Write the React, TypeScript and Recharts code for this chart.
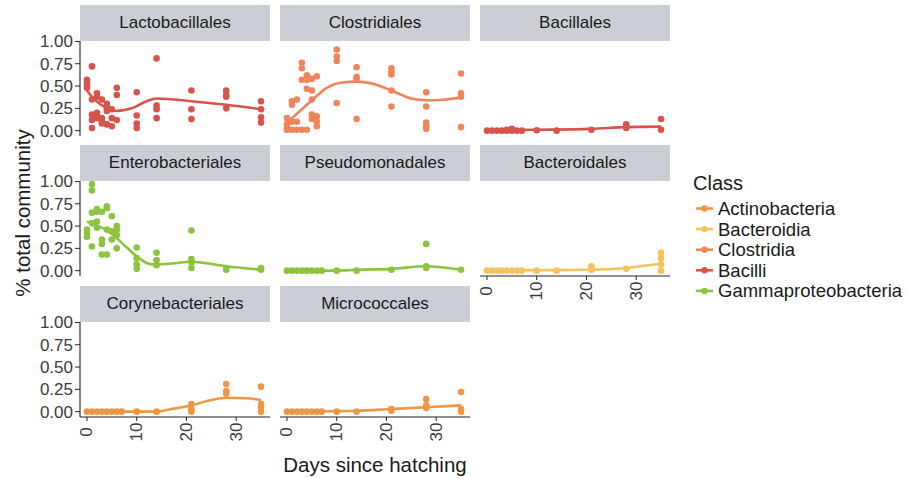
import React from "react";
import { ComposedChart, Scatter, Line, XAxis, YAxis } from "recharts";

type P = [number, number];

const FONT = '"Liberation Sans", Arial, Helvetica, sans-serif';

const classNames = ["Actinobacteria", "Bacteroidia", "Clostridia", "Bacilli", "Gammaproteobacteria"];
const classColors = ["#EF9645", "#F3C35F", "#EE855D", "#D6544B", "#8CC43F"];

const yTicks = [0, 0.25, 0.5, 0.75, 1];
const xTicks = [0, 10, 20, 30];

// points: [day, proportion]
const lactoPts: P[] = [
  [0, 0.57], [0, 0.54], [0, 0.5], [0, 0.48], [1, 0.72], [1, 0.35], [1, 0.18], [1, 0.12], [1, 0.03],
  [2, 0.42], [2, 0.38], [2, 0.2], [2, 0.18], [2, 0.14], [3, 0.35], [3, 0.14], [3, 0.1], [3, 0.08],
  [4, 0.3], [4, 0.25], [4, 0.22], [4, 0.07], [5, 0.24], [5, 0.14], [5, 0.05], [6, 0.48], [6, 0.4], [6, 0.12],
  [10, 0.43], [10, 0.17], [10, 0.08], [10, 0.03], [14, 0.81], [14, 0.28], [14, 0.24], [14, 0.14],
  [21, 0.45], [21, 0.24], [21, 0.13], [28, 0.45], [28, 0.4], [28, 0.38], [28, 0.25],
  [35, 0.33], [35, 0.24], [35, 0.15], [35, 0.09],
];
const lactoFit: P[] = [[0, 0.45], [1.5, 0.35], [4, 0.25], [5.5, 0.22], [9, 0.25], [12, 0.33], [14, 0.36], [21, 0.33], [28, 0.29], [35, 0.24]];

const clostPts: P[] = [
  [0, 0.14], [0, 0.07], [0, 0.03], [0, 0.01], [1, 0.33], [1, 0.29], [1, 0.1], [1, 0.01], [2, 0.35], [2, 0.1], [2, 0.01],
  [3, 0.76], [3, 0.7], [3, 0.57], [3, 0.01], [4, 0.62], [4, 0.57], [4, 0.47], [4, 0.01],
  [5, 0.58], [5, 0.45], [5, 0.35], [5, 0.18], [5, 0.13], [6, 0.61], [6, 0.16], [6, 0.1], [6, 0.05],
  [10, 0.91], [10, 0.83], [10, 0.78], [10, 0.31], [14, 0.71], [14, 0.6], [14, 0.57], [14, 0.13],
  [21, 0.7], [21, 0.66], [21, 0.63], [21, 0.45], [21, 0.27], [28, 0.43], [28, 0.27], [28, 0.09], [28, 0.05], [28, 0.02],
  [35, 0.64], [35, 0.42], [35, 0.38], [35, 0.04],
];
const clostFit: P[] = [[0, 0.09], [2, 0.19], [5, 0.34], [8, 0.48], [11, 0.54], [14, 0.55], [17, 0.53], [21, 0.45], [25, 0.36], [28, 0.34], [32, 0.35], [35, 0.37]];

const bacilPts: P[] = [
  [0, 0], [1, 0], [2, 0], [3, 0], [4, 0], [4, 0.01], [5, 0.02], [5, 0], [6, 0], [7, 0],
  [10, 0.005], [14, 0], [21, 0.01], [28, 0.07], [28, 0.05], [28, 0.03], [35, 0.13], [35, 0.01],
];
const bacilFit: P[] = [[0, 0.005], [10, 0.01], [21, 0.02], [28, 0.04], [35, 0.045]];

const enteroPts: P[] = [
  [0, 0.46], [0, 0.42], [0, 0.38], [1, 0.97], [1, 0.9], [1, 0.65], [1, 0.53], [1, 0.27],
  [2, 0.69], [2, 0.66], [2, 0.55], [2, 0.48], [3, 0.66], [3, 0.35], [3, 0.3], [3, 0.18],
  [4, 0.72], [4, 0.7], [4, 0.46], [4, 0.18], [5, 0.61], [5, 0.44], [5, 0.35], [6, 0.5], [6, 0.46], [6, 0.4], [6, 0.25],
  [10, 0.26], [10, 0.14], [10, 0.07], [10, 0.02], [14, 0.2], [14, 0.12], [14, 0.06],
  [21, 0.45], [21, 0.13], [21, 0.09], [21, 0.03], [28, 0.03], [28, 0.01], [35, 0.03], [35, 0.01],
];
const enteroFit: P[] = [[0, 0.55], [2, 0.51], [5, 0.41], [8, 0.26], [10, 0.16], [13, 0.07], [17, 0.08], [21, 0.1], [28, 0.05], [35, 0.01]];

const pseudoPts: P[] = [
  [0, 0], [1, 0], [2, 0], [3, 0], [4, 0], [5, 0], [6, 0], [7, 0],
  [10, 0], [14, 0], [21, 0.01], [28, 0.3], [28, 0.05], [28, 0.03], [35, 0.01],
];
const pseudoFit: P[] = [[0, 0.0], [10, 0.0], [14, 0.01], [21, 0.02], [28, 0.05], [35, 0.01]];

const bactPts: P[] = [
  [0, 0], [1, 0], [2, 0], [3, 0], [4, 0], [5, 0], [6, 0], [7, 0],
  [10, 0], [14, 0], [21, 0.05], [21, 0.03], [21, 0.01], [28, 0.02], [35, 0.2], [35, 0.14], [35, 0.07], [35, 0.0],
];
const bactFit: P[] = [[0, 0.0], [10, 0.005], [21, 0.01], [28, 0.03], [35, 0.08]];

const corynePts: P[] = [
  [0, 0], [1, 0], [2, 0], [3, 0], [4, 0], [5, 0], [6, 0], [7, 0], [10, 0], [14, 0],
  [21, 0.085], [21, 0.03], [21, 0.0], [28, 0.31], [28, 0.23], [28, 0.2], [35, 0.28], [35, 0.085], [35, 0.05], [35, 0.0],
];
const coryneFit: P[] = [[0, 0], [10, 0], [14, 0.0], [17, 0.03], [21, 0.07], [25, 0.13], [28, 0.155], [32, 0.15], [35, 0.13]];

const microPts: P[] = [
  [0, 0], [1, 0], [2, 0], [3, 0], [4, 0], [5, 0], [6, 0], [7, 0], [10, 0], [14, 0],
  [21, 0.03], [21, 0.01], [28, 0.14], [28, 0.07], [28, 0.04], [35, 0.22], [35, 0.03], [35, 0.0],
];
const microFit: P[] = [[0, 0.0], [10, 0.005], [14, 0.01], [21, 0.03], [28, 0.05], [35, 0.07]];

const toRows = (a: P[]) => a.map(([day, value]) => ({ day, value }));

const COLS = [80, 280, 480];
const STRIP_TOPS = [5, 145, 286];
const PW = 190;
const PH = 95;
const SH = 36;
const PAD = 12; // room around the plot so edge labels are not clipped

const XTick = (props: any) => {
  const { x, y, payload } = props;
  return (
    <text x={x} y={y + 9} transform={`rotate(-90 ${x} ${y + 9})`} textAnchor="middle" dominantBaseline="central"
      fontSize={17} fill="#3b3b3b" fontFamily={FONT}>
      {payload.value}
    </text>
  );
};

function Panel({ title, pts, fit, color, col, row, showX }: { title: string; pts: P[]; fit: P[]; color: string; col: number; row: number; showX: boolean }) {
  const left = COLS[col];
  const top = STRIP_TOPS[row];
  const showY = col === 0;
  const lw = showY ? 80 : PAD;
  const bh = showX ? 40 : PAD;
  return (
    <>
      <div style={{ position: "absolute", left: left - lw, top: top + SH - PAD }}>
        <ComposedChart width={PW + lw + PAD} height={PH + PAD + bh}
          margin={{ top: PAD, right: PAD, bottom: showX ? 0 : PAD, left: showY ? 0 : PAD }}>
          <XAxis type="number" dataKey="day" domain={[-1.4, 36.8]} ticks={xTicks} allowDataOverflow hide={!showX} height={40}
            axisLine={{ stroke: "#222", strokeWidth: 1.1 }} tickLine={{ stroke: "#222" }} tickSize={4} tick={<XTick />} interval={0} />
          <YAxis type="number" dataKey="value" domain={[-0.06, 1.005]} ticks={yTicks} allowDataOverflow hide={!showY} width={80}
            axisLine={{ stroke: "#222", strokeWidth: 1.1 }} tickLine={{ stroke: "#222" }} tickSize={5} tickMargin={2}
            tickFormatter={(v: number) => v.toFixed(2)} tick={{ fontSize: 17, fill: "#3b3b3b", fontFamily: FONT }} interval={0} />
          <Scatter data={toRows(pts)} fill={color} isAnimationActive={false}
            shape={(p: any) => <circle cx={p.cx} cy={p.cy} r={3.3} fill={color} />} />
          <Line data={toRows(fit)} dataKey="value" type="monotone" stroke={color} strokeWidth={2.6} dot={false}
            activeDot={false} isAnimationActive={false} />
        </ComposedChart>
      </div>
      <div style={{ position: "absolute", left, top, width: PW, height: SH, background: "#CBCED5", color: "#1a1a1a",
        fontFamily: FONT, fontSize: 17, display: "flex", alignItems: "center", justifyContent: "center" }}>
        {title}
      </div>
    </>
  );
}

export default function App() {
  return (
    <div style={{ position: "absolute", left: 0, top: 0, width: 909, height: 478, background: "#fff", fontFamily: FONT }}>
      <Panel title="Lactobacillales" pts={lactoPts} fit={lactoFit} color={classColors[3]} col={0} row={0} showX={false} />
      <Panel title="Clostridiales" pts={clostPts} fit={clostFit} color={classColors[2]} col={1} row={0} showX={false} />
      <Panel title="Bacillales" pts={bacilPts} fit={bacilFit} color={classColors[3]} col={2} row={0} showX={false} />
      <Panel title="Enterobacteriales" pts={enteroPts} fit={enteroFit} color={classColors[4]} col={0} row={1} showX={false} />
      <Panel title="Pseudomonadales" pts={pseudoPts} fit={pseudoFit} color={classColors[4]} col={1} row={1} showX={false} />
      <Panel title="Bacteroidales" pts={bactPts} fit={bactFit} color={classColors[1]} col={2} row={1} showX={true} />
      <Panel title="Corynebacteriales" pts={corynePts} fit={coryneFit} color={classColors[0]} col={0} row={2} showX={true} />
      <Panel title="Micrococcales" pts={microPts} fit={microFit} color={classColors[0]} col={1} row={2} showX={true} />
      <svg width={909} height={478} style={{ position: "absolute", left: 0, top: 0, pointerEvents: "none" }}>
        <text x={22} y={213} transform="rotate(-90 22 213)" textAnchor="middle" dominantBaseline="central" fontSize={20.5} fill="#1a1a1a" fontFamily={FONT}>
          % total community
        </text>
        <text x={375} y={464} textAnchor="middle" dominantBaseline="central" fontSize={20.5} fill="#1a1a1a" fontFamily={FONT}>
          Days since hatching
        </text>
        <text x={693} y={190} fontSize={20} fill="#1a1a1a" fontFamily={FONT}>Class</text>
        {classNames.map((n, i) => {
          const cy = 208.5 + i * 20.6;
          return (
            <g key={n}>
              <line x1={696} x2={713} y1={cy} y2={cy} stroke={classColors[i]} strokeWidth={2.6} />
              <circle cx={704.5} cy={cy} r={3.2} fill={classColors[i]} />
              <text x={718} y={cy} dominantBaseline="central" fontSize={18.5} fill="#1a1a1a" fontFamily={FONT}>{n}</text>
            </g>
          );
        })}
      </svg>
    </div>
  );
}
